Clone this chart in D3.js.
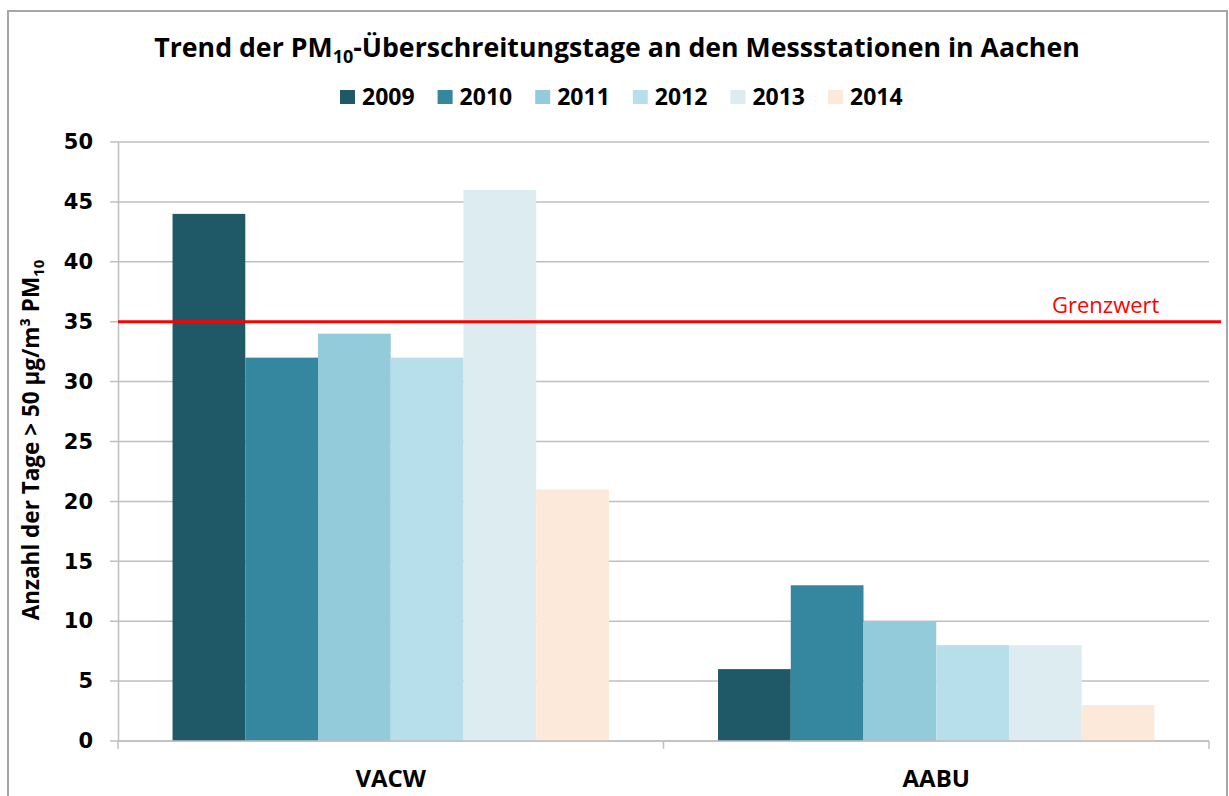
<!DOCTYPE html>
<html>
<head>
<meta charset="utf-8">
<script src="https://cdn.jsdelivr.net/npm/d3@7"></script>
<style>
  body { margin: 0; background: #fff; }
  svg text { font-family: "Open Sans", "DejaVu Sans", sans-serif; }
</style>
</head>
<body>
<div id="chart"></div>
<script>
var stations = ["VACW", "AABU"];
var years = ["2009", "2010", "2011", "2012", "2013", "2014"];
var colors = ["#1f5866", "#35879f", "#93cbdb", "#b7dfeb", "#dcecf0", "#fde9d9"];
var vacw = [44, 32, 34, 32, 46, 21];
var aabu = [6, 13, 10, 8, 8, 3];
var yTicks = [0, 5, 10, 15, 20, 25, 30, 35, 40, 45, 50];
var limit = 35;

var values = { VACW: vacw, AABU: aabu };

var width = 1229, height = 796;
var margin = { top: 142, right: 20, bottom: 55, left: 118 };
var w = width - margin.left - margin.right,
    h = height - margin.top - margin.bottom;

var svg = d3.select("#chart").append("svg")
    .attr("width", width)
    .attr("height", height);

// chart border (bottom edge runs off the picture)
svg.append("rect")
    .attr("x", 8).attr("y", 11)
    .attr("width", 1219).attr("height", 800)
    .attr("fill", "none")
    .attr("stroke", "#a6a6a6")
    .attr("stroke-width", 2);

var g = svg.append("g")
    .attr("transform", "translate(" + margin.left + "," + margin.top + ")");

var x0 = d3.scaleBand()
    .domain(stations)
    .range([0, w])
    .paddingInner(0.2)
    .paddingOuter(0.1);

var x1 = d3.scaleBand()
    .domain(years)
    .range([0, x0.bandwidth()]);

var y = d3.scaleLinear()
    .domain([0, 50])
    .range([h, 0]);

// gridlines
g.append("g")
    .selectAll("line")
    .data(yTicks)
    .enter().append("line")
    .attr("x1", -8).attr("x2", w)
    .attr("y1", function (d) { return y(d); })
    .attr("y2", function (d) { return y(d); })
    .attr("stroke", "#bfbfbf")
    .attr("stroke-width", 1.5);

// y axis
var yAxis = g.append("g")
    .call(d3.axisLeft(y).tickValues(yTicks).tickSize(0).tickPadding(25));
yAxis.select(".domain").attr("stroke", "#bfbfbf").attr("stroke-width", 1.5);
yAxis.selectAll("text")
    .style("font-family", "'DejaVu Sans', sans-serif")
    .style("font-weight", "bold")
    .style("font-size", "21px")
    .attr("fill", "#000");

// bars
var groups = g.selectAll(".station")
    .data(stations)
    .enter().append("g")
    .attr("transform", function (d) { return "translate(" + x0(d) + ",0)"; });

groups.selectAll("rect")
    .data(function (s) { return years.map(function (yr, i) { return { year: yr, value: values[s][i], color: colors[i] }; }); })
    .enter().append("rect")
    .attr("x", function (d) { return x1(d.year); })
    .attr("width", x1.bandwidth())
    .attr("y", function (d) { return y(d.value); })
    .attr("height", function (d) { return h - y(d.value); })
    .attr("fill", function (d) { return d.color; });

// x axis
g.append("line")
    .attr("x1", 0).attr("x2", w)
    .attr("y1", h).attr("y2", h)
    .attr("stroke", "#bfbfbf").attr("stroke-width", 1.5);

var bounds = [0, w / 2, w];
g.selectAll(".xtick")
    .data(bounds)
    .enter().append("line")
    .attr("x1", function (d) { return d; }).attr("x2", function (d) { return d; })
    .attr("y1", h).attr("y2", h + 8)
    .attr("stroke", "#bfbfbf").attr("stroke-width", 1.5);

g.selectAll(".xlabel")
    .data(stations)
    .enter().append("text")
    .attr("x", function (d) { return x0(d) + x0.bandwidth() / 2; })
    .attr("y", h + 46)
    .attr("text-anchor", "middle")
    .style("font-weight", "bold")
    .style("font-size", "24px")
    .text(function (d) { return d; });

// limit line
g.append("line")
    .attr("x1", 0).attr("x2", w + 12)
    .attr("y1", y(limit)).attr("y2", y(limit))
    .attr("stroke", "#ff0000")
    .attr("stroke-width", 3);

g.append("text")
    .attr("x", 934)
    .attr("y", y(limit) - 9)
    .attr("fill", "#ff0000")
    .style("font-size", "22px")
    .text("Grenzwert");

// y label
var yl = svg.append("text")
    .attr("transform", "translate(39,440) rotate(-90)")
    .attr("text-anchor", "middle")
    .style("font-weight", "bold")
    .style("font-size", "22.5px");
yl.append("tspan").text("Anzahl der Tage > 50 µg/m³ PM");
yl.append("tspan").attr("dy", 5).style("font-size", "15px").text("10");

// title
var title = svg.append("text")
    .attr("x", 617)
    .attr("y", 57)
    .attr("text-anchor", "middle")
    .style("font-weight", "bold")
    .style("font-size", "26.7px");
title.append("tspan").text("Trend der PM");
title.append("tspan").attr("dy", 6).style("font-size", "18px").text("10");
title.append("tspan").attr("dy", -6).text("-Überschreitungstage an den Messstationen in Aachen");

// legend
var legend = svg.append("g")
    .selectAll("g")
    .data(years)
    .enter().append("g")
    .attr("transform", function (d, i) { return "translate(" + (340 + i * 97.6) + ",90)"; });

legend.append("rect")
    .attr("width", 15).attr("height", 14)
    .attr("fill", function (d, i) { return colors[i]; });

legend.append("text")
    .attr("x", 22).attr("y", 15)
    .style("font-weight", "bold")
    .style("font-size", "23px")
    .text(function (d) { return d; });
</script>
</body>
</html>
